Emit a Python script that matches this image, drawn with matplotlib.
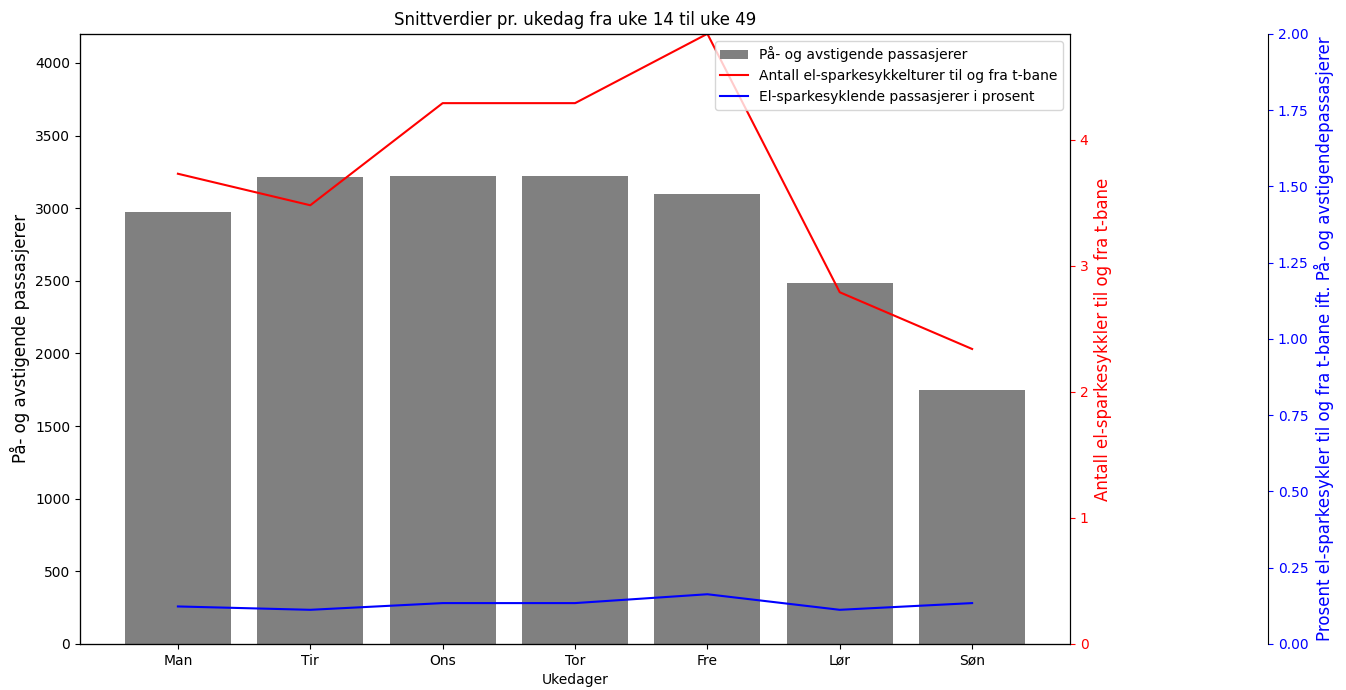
import matplotlib.pyplot as plt

# snittverdier pr. ukedag
dager = ['Man', 'Tir', 'Ons', 'Tor', 'Fre', 'Lør', 'Søn']
passasjerer = [2975, 3216, 3223, 3223, 3100, 2488, 1746]
sparkesykkelturer = [3.73, 3.48, 4.29, 4.29, 4.84, 2.79, 2.34]
prosent = [0.123, 0.112, 0.134, 0.134, 0.163, 0.112, 0.134]

fig = plt.figure(figsize=(13.46, 6.9), dpi=100)
ax1 = fig.add_axes([0.0594, 0.0667, 0.7356, 0.8843])

bars = ax1.bar(dager, passasjerer, color='gray', label='På- og avstigende passasjerer')
ax1.set_ylim(0, 4200)
ax1.set_xlabel('Ukedager')
ax1.set_ylabel('På- og avstigende passasjerer', fontsize=12)
ax1.set_title('Snittverdier pr. ukedag fra uke 14 til uke 49')

# andre akse for antall turer
ax2 = ax1.twinx()
l1, = ax2.plot(dager, sparkesykkelturer, color='red',
               label='Antall el-sparkesykkelturer til og fra t-bane')
ax2.set_ylim(0, max(sparkesykkelturer))
ax2.set_ylabel('Antall el-sparkesykkler til og fra t-bane', color='red', fontsize=12)
ax2.tick_params(axis='y', colors='red')

# tredje akse for prosent
ax3 = ax1.twinx()
ax3.spines['right'].set_position(('axes', 1.2))
l2, = ax3.plot(dager, prosent, color='blue',
               label='El-sparkesyklende passasjerer i prosent')
ax3.set_ylim(0, 2)
ax3.set_ylabel('Prosent el-sparkesykler til og fra t-bane ift. På- og avstigendepassasjerer',
               color='blue', fontsize=12)
ax3.tick_params(axis='y', colors='blue')

ax3.legend([bars, l1, l2], [bars.get_label(), l1.get_label(), l2.get_label()],
           loc='upper right')

fig.savefig('out.png', dpi=100)
